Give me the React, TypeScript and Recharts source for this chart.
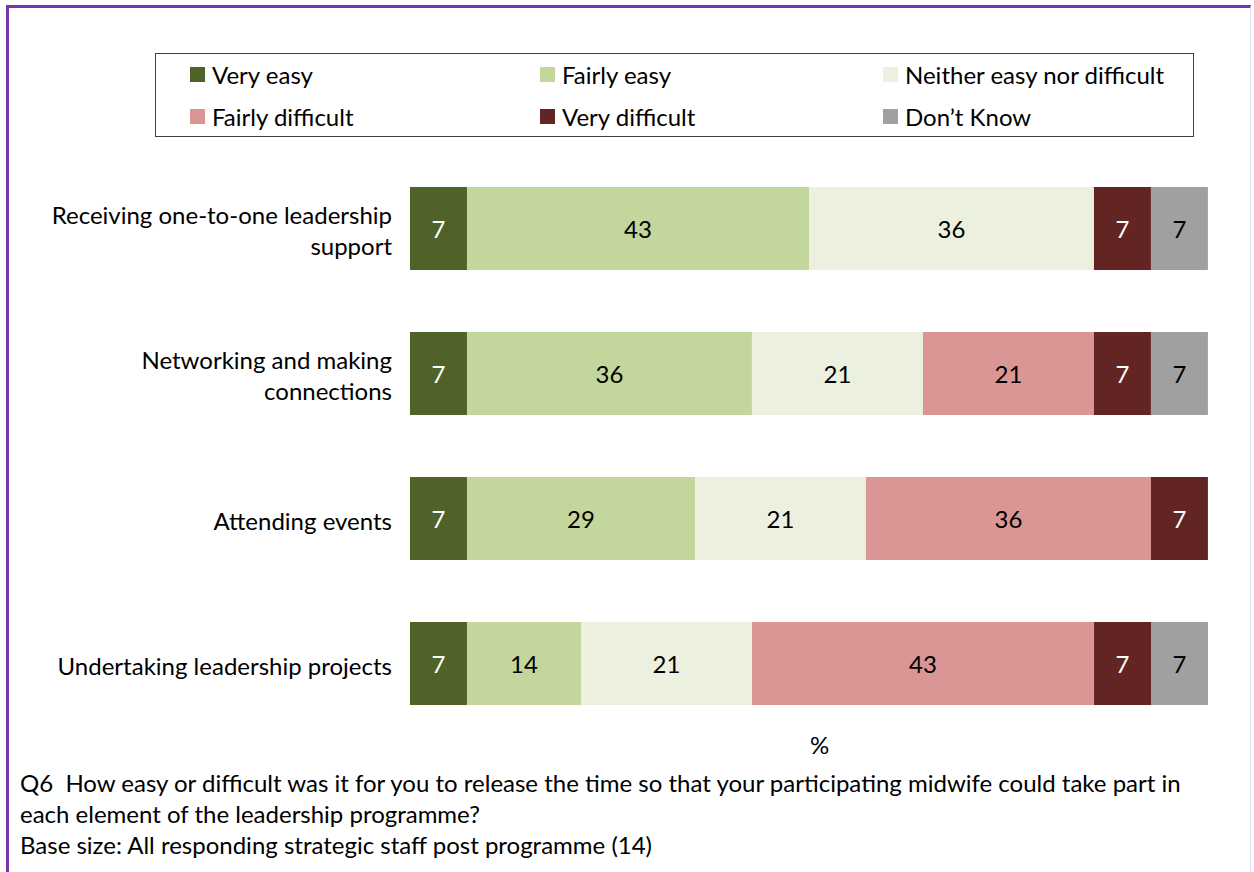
import React from 'react';
import { BarChart, Bar, XAxis, YAxis, LabelList } from 'recharts';

// categories (line breaks as in the original labels)
const categories = [
  'Receiving one-to-one leadership\nsupport',
  'Networking and making\nconnections',
  'Attending events',
  'Undertaking leadership projects',
];

// % of respondents (base 14)
const veryEasy = [7.14, 7.14, 7.14, 7.14];
const fairlyEasy = [42.86, 35.71, 28.57, 14.29];
const neither = [35.71, 21.43, 21.43, 21.43];
const fairlyDifficult = [0, 21.43, 35.71, 42.86];
const veryDifficult = [7.14, 7.14, 7.14, 7.14];
const dontKnow = [7.14, 7.14, 0, 7.14];

const seriesNames = ['Very easy', 'Fairly easy', 'Neither easy nor difficult', 'Fairly difficult', 'Very difficult', 'Don\u2019t Know'];
const seriesKeys = ['veryEasy', 'fairlyEasy', 'neither', 'fairlyDifficult', 'veryDifficult', 'dontKnow'];
const seriesValues = [veryEasy, fairlyEasy, neither, fairlyDifficult, veryDifficult, dontKnow];
const COLORS = ['#4F6228', '#C3D69B', '#EBF1DE', '#D99694', '#632523', '#A0A0A0'];
const LABEL_COLORS = ['#FFFFFF', '#000000', '#000000', '#000000', '#FFFFFF', '#000000'];

const FONT = "Lato, 'Open Sans', sans-serif";
const FS = 24;

const data = categories.map((name, i) => {
  const row: Record<string, string | number> = { name };
  seriesKeys.forEach((k, s) => {
    row[k] = seriesValues[s][i];
  });
  return row;
});

const CategoryTick = (props: any) => {
  const { x, y, payload } = props;
  const lines = String(payload.value).split('\n');
  const lh = 31;
  const start = -((lines.length - 1) * lh) / 2 + 11;
  return (
    <text x={x} y={y} textAnchor="end" fontSize={FS} fill="#000" fontFamily={FONT}>
      {lines.map((l, i) => (
        <tspan key={i} x={x} dy={i === 0 ? start : lh}>
          {l}
        </tspan>
      ))}
    </text>
  );
};

const makeLabel = (color: string) => (props: any) => {
  const { x, y, width, height, value } = props;
  if (!value) return null;
  return (
    <text
      x={x + width / 2}
      y={y + height / 2 + 9}
      textAnchor="middle"
      fontSize={FS}
      fill={color}
      fontFamily={FONT}
    >
      {Math.round(value)}
    </text>
  );
};

const App: React.FC = () => {
  return (
    <div style={{ position: 'absolute', left: 0, top: 0, width: 1254, height: 872, background: '#fff', overflow: 'hidden', fontFamily: FONT }}>
      {/* frame */}
      <div
        style={{
          position: 'absolute',
          left: 6,
          top: 5,
          width: 1245,
          height: 900,
          borderTop: '3px solid #7636A8',
          borderLeft: '3px solid #7636A8',
          borderRight: '1px solid #E4DEEC',
          boxSizing: 'border-box',
        }}
      />

      {/* legend */}
      <div
        style={{
          position: 'absolute',
          left: 155,
          top: 53,
          width: 1039,
          height: 84,
          border: '1px solid #404040',
          boxSizing: 'border-box',
          display: 'grid',
          gridTemplateColumns: '350px 343px auto',
          gridTemplateRows: '41px 42px',
          paddingLeft: 34,
          fontSize: FS,
          color: '#000',
        }}
      >
        {seriesNames.map((n, s) => (
          <div key={s} style={{ display: 'flex', alignItems: 'center' }}>
            <span style={{ display: 'inline-block', width: 15, height: 15, background: COLORS[s], marginRight: 7 }} />
            <span>{n}</span>
          </div>
        ))}
      </div>

      <div style={{ position: 'absolute', left: 0, top: 0 }}>
        <BarChart
          width={1254}
          height={872}
          data={data}
          layout="vertical"
          margin={{ top: 156, right: 46, bottom: 136, left: 0 }}
        >
          <XAxis type="number" domain={[0, 100]} hide />
          <YAxis
            type="category"
            dataKey="name"
            width={410}
            axisLine={false}
            tickLine={false}
            tickSize={6}
            tickMargin={12}
            tick={<CategoryTick />}
          />
          {seriesKeys.map((k, s) => (
            <Bar key={k} dataKey={k} name={seriesNames[s]} stackId="a" fill={COLORS[s]} barSize={83} isAnimationActive={false}>
              <LabelList dataKey={k} content={makeLabel(LABEL_COLORS[s])} />
            </Bar>
          ))}
        </BarChart>
      </div>

      {/* axis unit */}
      <div style={{ position: 'absolute', left: 810, top: 730, fontSize: FS, lineHeight: '30px', color: '#000' }}>%</div>

      {/* footnote */}
      <div style={{ position: 'absolute', left: 20, top: 767, fontSize: FS, lineHeight: '31px', color: '#000', width: 1220, whiteSpace: 'nowrap' }}>
        <div>Q6&nbsp; How easy or difficult was it for you to release the time so that your participating midwife could take part in</div>
        <div>each element of the leadership programme?</div>
        <div>Base size: All responding strategic staff post programme (14)</div>
      </div>
    </div>
  );
};

export default App;
